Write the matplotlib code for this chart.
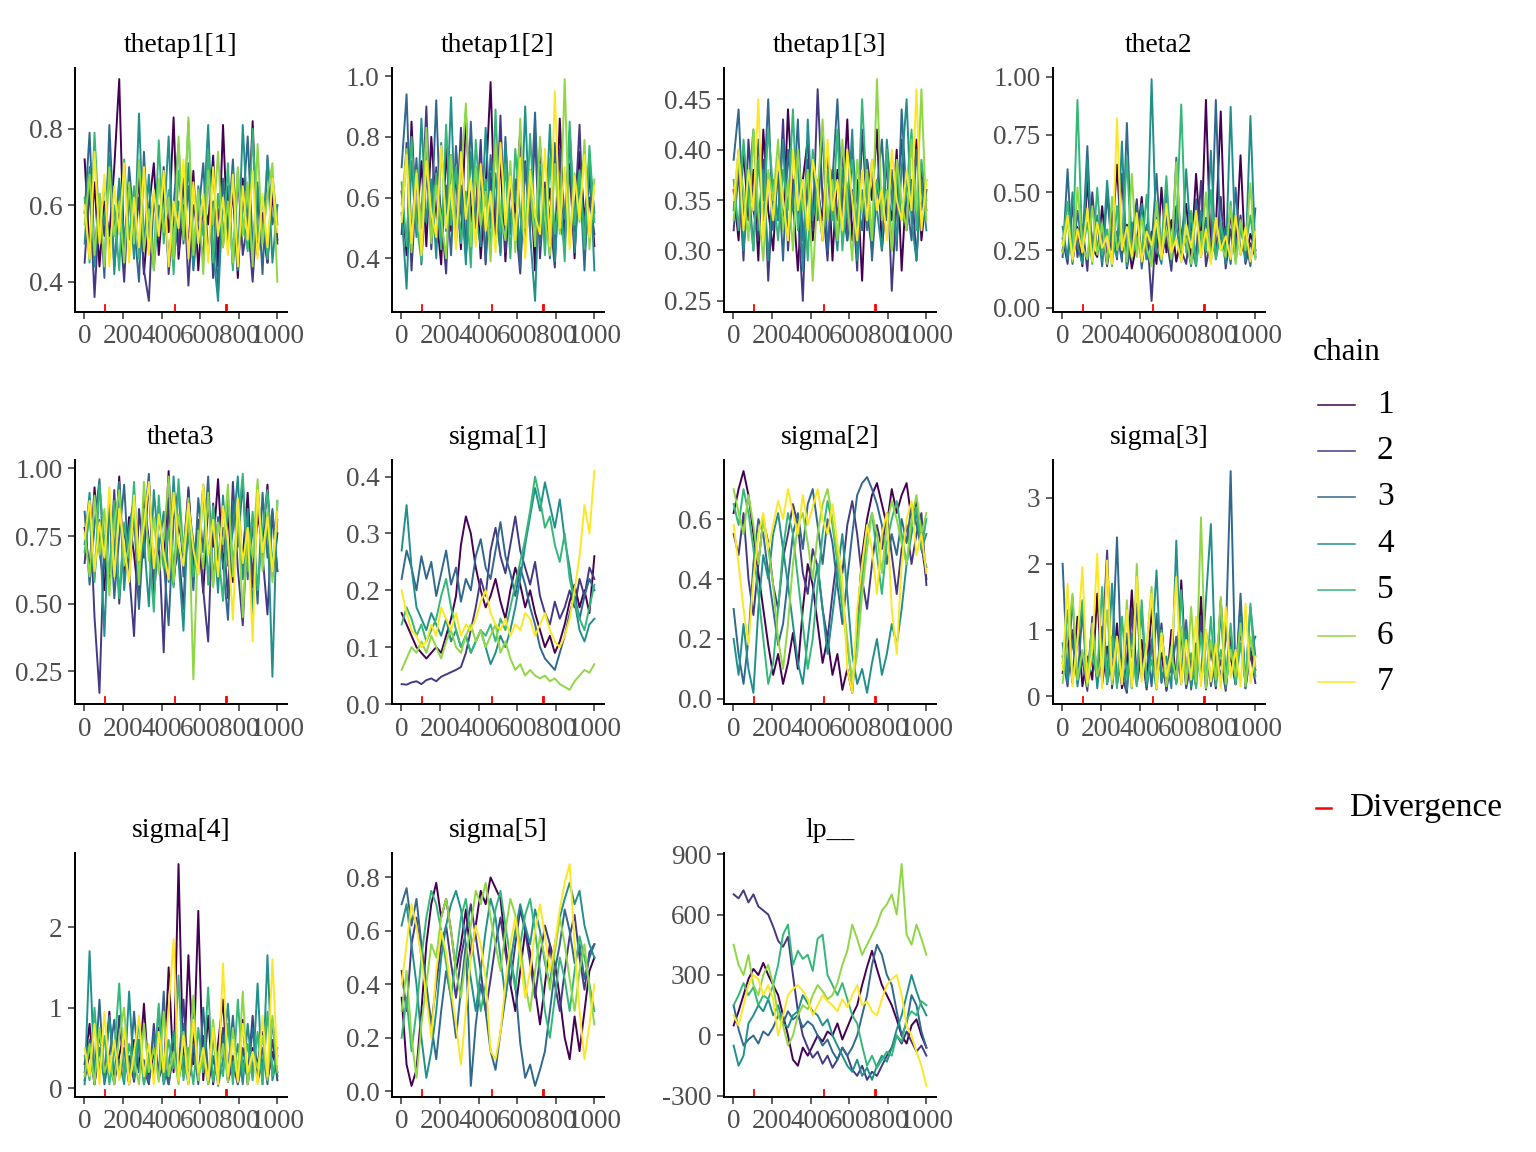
import matplotlib
matplotlib.use("Agg")
import matplotlib.pyplot as plt
from matplotlib.lines import Line2D
import numpy as np

plt.rcParams['font.family'] = ['Liberation Serif', 'DejaVu Serif']

# MCMC trace plot, 7 chains x 1000 iterations, values read (thinned) off the reference
n_iter = 1000
chain_labels = ['1', '2', '3', '4', '5', '6', '7']
chain_colors = ['#440154', '#443A83', '#31688E', '#21908C', '#35B779', '#8FD744', '#FDE725']
divergences = [105, 470, 732, 740]

param_names = ['thetap1[1]', 'thetap1[2]', 'thetap1[3]', 'theta2',
               'theta3', 'sigma[1]', 'sigma[2]', 'sigma[3]',
               'sigma[4]', 'sigma[5]', 'lp__']

thetap1_1 = [
    [0.72,0.48,0.66,0.44,0.61,0.52,0.70,0.93,0.45,0.63,0.50,0.68,0.42,0.59,0.71,0.47,0.64,0.53,0.83,0.46,0.60,0.49,0.69,0.43,0.62,0.55,0.73,0.44,0.81,0.50,0.64,0.41,0.67,0.52,0.82,0.47,0.58,0.45,0.63,0.51],
    [0.45,0.65,0.36,0.60,0.52,0.71,0.44,0.58,0.40,0.66,0.49,0.62,0.43,0.35,0.63,0.51,0.70,0.42,0.57,0.48,0.67,0.39,0.60,0.54,0.46,0.72,0.41,0.59,0.50,0.65,0.44,0.69,0.47,0.56,0.40,0.61,0.53,0.45,0.66,0.50],
    [0.58,0.79,0.47,0.63,0.41,0.81,0.52,0.66,0.45,0.70,0.55,0.40,0.74,0.48,0.62,0.52,0.68,0.44,0.60,0.76,0.50,0.65,0.43,0.57,0.71,0.47,0.61,0.38,0.67,0.53,0.72,0.46,0.59,0.78,0.49,0.64,0.42,0.73,0.55,0.60],
    [0.50,0.70,0.44,0.62,0.55,0.73,0.42,0.67,0.51,0.63,0.46,0.84,0.49,0.68,0.43,0.60,0.54,0.78,0.45,0.61,0.52,0.71,0.44,0.65,0.57,0.81,0.48,0.35,0.62,0.50,0.69,0.43,0.81,0.55,0.47,0.66,0.51,0.72,0.45,0.60],
    [0.62,0.45,0.79,0.53,0.66,0.48,0.60,0.43,0.72,0.51,0.65,0.46,0.70,0.56,0.44,0.77,0.50,0.64,0.42,0.69,0.54,0.82,0.47,0.61,0.52,0.74,0.45,0.63,0.49,0.71,0.43,0.67,0.56,0.48,0.80,0.51,0.62,0.46,0.68,0.55],
    [0.55,0.68,0.47,0.63,0.44,0.70,0.52,0.61,0.45,0.66,0.50,0.72,0.48,0.59,0.43,0.67,0.53,0.62,0.46,0.78,0.51,0.83,0.47,0.64,0.42,0.69,0.55,0.74,0.49,0.61,0.45,0.70,0.52,0.66,0.44,0.76,0.50,0.63,0.71,0.40],
    [0.60,0.46,0.74,0.50,0.68,0.44,0.65,0.53,0.71,0.45,0.62,0.49,0.70,0.47,0.64,0.52,0.69,0.44,0.61,0.54,0.72,0.46,0.66,0.50,0.63,0.45,0.70,0.52,0.62,0.47,0.68,0.44,0.65,0.51,0.69,0.46,0.63,0.49,0.67,0.53],
]
thetap1_2 = [
    [0.62,0.41,0.85,0.50,0.72,0.44,0.80,0.55,0.38,0.76,0.49,0.68,0.43,0.88,0.52,0.70,0.40,0.64,0.98,0.47,0.73,0.39,0.66,0.55,0.82,0.45,0.69,0.36,0.77,0.51,0.63,0.42,0.86,0.48,0.71,0.40,0.75,0.53,0.67,0.44],
    [0.48,0.78,0.36,0.66,0.52,0.90,0.43,0.70,0.55,0.35,0.74,0.47,0.83,0.41,0.62,0.50,0.79,0.38,0.68,0.46,0.87,0.42,0.64,0.53,0.35,0.72,0.49,0.81,0.40,0.65,0.54,0.37,0.76,0.45,0.69,0.52,0.84,0.41,0.60,0.48],
    [0.70,0.94,0.45,0.73,0.38,0.68,0.52,0.92,0.46,0.64,0.41,0.77,0.55,0.44,0.85,0.50,0.67,0.39,0.74,0.56,0.42,0.80,0.48,0.66,0.37,0.71,0.53,0.88,0.44,0.63,0.40,0.78,0.51,0.45,0.82,0.49,0.69,0.36,0.73,0.55],
    [0.55,0.30,0.72,0.47,0.86,0.52,0.66,0.40,0.78,0.49,0.93,0.45,0.64,0.38,0.75,0.54,0.44,0.83,0.50,0.68,0.41,0.77,0.52,0.62,0.43,0.90,0.48,0.26,0.71,0.46,0.84,0.39,0.67,0.53,0.80,0.42,0.65,0.50,0.74,0.36],
    [0.65,0.44,0.80,0.52,0.39,0.75,0.48,0.68,0.43,0.84,0.51,0.70,0.45,0.62,0.37,0.79,0.55,0.66,0.42,0.89,0.49,0.71,0.40,0.76,0.54,0.44,0.81,0.50,0.67,0.41,0.73,0.48,0.62,0.39,0.85,0.51,0.69,0.43,0.77,0.52],
    [0.58,0.76,0.42,0.69,0.50,0.83,0.45,0.64,0.53,0.40,0.74,0.48,0.67,0.91,0.44,0.70,0.51,0.62,0.39,0.78,0.55,0.46,0.72,0.42,0.86,0.50,0.65,0.44,0.80,0.53,0.41,0.71,0.48,0.99,0.45,0.68,0.52,0.79,0.43,0.66],
    [0.52,0.74,0.45,0.68,0.41,0.72,0.55,0.47,0.77,0.50,0.64,0.43,0.75,0.53,0.66,0.44,0.71,0.49,0.62,0.42,0.78,0.51,0.67,0.46,0.73,0.40,0.69,0.54,0.48,0.76,0.44,0.95,0.50,0.70,0.43,0.67,0.53,0.74,0.47,0.64],
]
thetap1_3 = [
    [0.36,0.31,0.40,0.33,0.38,0.29,0.42,0.34,0.30,0.39,0.32,0.44,0.35,0.28,0.37,0.41,0.31,0.36,0.33,0.40,0.29,0.38,0.34,0.43,0.31,0.37,0.27,0.39,0.35,0.42,0.30,0.36,0.33,0.40,0.28,0.37,0.34,0.41,0.31,0.36],
    [0.32,0.38,0.29,0.41,0.34,0.31,0.39,0.27,0.36,0.33,0.43,0.30,0.37,0.34,0.25,0.39,0.32,0.46,0.35,0.29,0.38,0.33,0.40,0.31,0.36,0.28,0.42,0.34,0.30,0.37,0.33,0.39,0.26,0.35,0.41,0.32,0.37,0.29,0.38,0.34],
    [0.39,0.44,0.33,0.37,0.30,0.41,0.35,0.45,0.32,0.38,0.29,0.40,0.34,0.43,0.31,0.36,0.39,0.33,0.42,0.30,0.37,0.45,0.34,0.31,0.40,0.35,0.32,0.39,0.29,0.36,0.41,0.33,0.38,0.30,0.44,0.35,0.31,0.40,0.34,0.37],
    [0.34,0.40,0.30,0.36,0.42,0.32,0.38,0.29,0.37,0.33,0.41,0.31,0.35,0.39,0.28,0.43,0.33,0.37,0.31,0.40,0.35,0.30,0.38,0.33,0.42,0.29,0.36,0.32,0.39,0.34,0.30,0.41,0.35,0.31,0.38,0.45,0.33,0.29,0.37,0.32],
    [0.37,0.32,0.41,0.35,0.30,0.39,0.33,0.42,0.36,0.31,0.38,0.34,0.44,0.32,0.37,0.29,0.40,0.35,0.31,0.38,0.33,0.42,0.30,0.36,0.39,0.32,0.45,0.35,0.31,0.37,0.34,0.40,0.30,0.38,0.33,0.36,0.42,0.32,0.39,0.35],
    [0.33,0.39,0.36,0.31,0.42,0.34,0.29,0.38,0.35,0.41,0.32,0.37,0.30,0.40,0.34,0.38,0.27,0.36,0.43,0.33,0.37,0.31,0.41,0.35,0.29,0.39,0.34,0.38,0.31,0.47,0.33,0.36,0.30,0.39,0.35,0.32,0.41,0.34,0.46,0.33],
    [0.35,0.40,0.32,0.38,0.34,0.45,0.31,0.37,0.33,0.39,0.35,0.31,0.40,0.34,0.37,0.32,0.39,0.36,0.31,0.41,0.34,0.37,0.32,0.40,0.35,0.31,0.38,0.33,0.39,0.34,0.36,0.31,0.40,0.35,0.33,0.38,0.34,0.46,0.32,0.37],
]
theta2 = [
    [0.25,0.40,0.20,0.35,0.18,0.55,0.26,0.22,0.44,0.19,0.30,0.62,0.23,0.36,0.17,0.28,0.48,0.21,0.33,0.19,0.52,0.24,0.38,0.20,0.31,0.45,0.22,0.58,0.26,0.90,0.21,0.34,0.85,0.19,0.41,0.23,0.66,0.20,0.32,0.25],
    [0.30,0.19,0.45,0.22,0.36,0.16,0.50,0.24,0.33,0.18,0.42,0.21,0.58,0.17,0.29,0.47,0.20,0.35,0.03,0.39,0.22,0.31,0.16,0.44,0.25,0.19,0.37,0.21,0.55,0.18,0.30,0.23,0.48,0.17,0.34,0.21,0.40,0.19,0.28,0.22],
    [0.22,0.60,0.19,0.42,0.26,0.70,0.21,0.38,0.18,0.49,0.25,0.33,0.20,0.80,0.23,0.44,0.17,0.36,0.27,0.58,0.21,0.40,0.19,0.65,0.24,0.31,0.18,0.47,0.22,0.39,0.20,0.90,0.25,0.35,0.19,0.52,0.23,0.30,0.18,0.43],
    [0.35,0.21,0.50,0.27,0.19,0.64,0.24,0.40,0.20,0.55,0.28,0.22,0.72,0.18,0.37,0.25,0.45,0.21,0.99,0.26,0.19,0.50,0.23,0.36,0.20,0.60,0.27,0.18,0.42,0.24,0.68,0.21,0.33,0.19,0.87,0.25,0.38,0.20,0.83,0.23],
    [0.28,0.46,0.22,0.90,0.25,0.37,0.19,0.52,0.23,0.34,0.18,0.44,0.26,0.65,0.21,0.31,0.24,0.49,0.20,0.38,0.27,0.57,0.22,0.35,0.88,0.24,0.42,0.19,0.33,0.25,0.51,0.21,0.37,0.23,0.46,0.20,0.34,0.26,0.40,0.22],
    [0.24,0.38,0.20,0.52,0.27,0.21,0.44,0.23,0.36,0.19,0.48,0.25,0.32,0.20,0.58,0.22,0.39,0.26,0.18,0.46,0.23,0.34,0.21,0.63,0.25,0.30,0.19,0.41,0.24,0.50,0.20,0.36,0.27,0.22,0.44,0.19,0.38,0.25,0.54,0.21],
    [0.27,0.40,0.21,0.34,0.24,0.43,0.20,0.37,0.26,0.31,0.19,0.82,0.25,0.35,0.22,0.41,0.20,0.33,0.27,0.38,0.21,0.45,0.24,0.30,0.20,0.36,0.26,0.42,0.22,0.34,0.19,0.39,0.25,0.31,0.21,0.40,0.23,0.35,0.20,0.33],
]
theta3 = [
    [0.78,0.62,0.93,0.70,0.55,0.88,0.66,0.97,0.59,0.82,0.68,0.51,0.90,0.73,0.60,0.86,0.64,0.99,0.57,0.80,0.69,0.92,0.61,0.77,0.54,0.87,0.71,0.96,0.63,0.84,0.58,0.79,0.67,0.91,0.56,0.83,0.72,0.94,0.60,0.76],
    [0.65,0.88,0.45,0.17,0.75,0.58,0.92,0.50,0.79,0.62,0.38,0.85,0.67,0.96,0.53,0.74,0.32,0.89,0.61,0.70,0.48,0.93,0.64,0.81,0.55,0.36,0.87,0.66,0.78,0.52,0.95,0.63,0.42,0.80,0.59,0.90,0.68,0.46,0.84,0.62],
    [0.84,0.57,0.79,0.96,0.63,0.87,0.52,0.75,0.94,0.61,0.83,0.48,0.78,0.98,0.58,0.86,0.66,0.42,0.81,0.93,0.60,0.76,0.55,0.89,0.69,0.97,0.57,0.82,0.65,0.44,0.88,0.71,0.95,0.59,0.80,0.50,0.91,0.67,0.85,0.62],
    [0.72,0.91,0.60,0.81,0.38,0.86,0.67,0.95,0.55,0.78,0.89,0.63,0.74,0.49,0.92,0.70,0.84,0.58,0.97,0.66,0.40,0.87,0.73,0.61,0.94,0.69,0.80,0.54,0.90,0.64,0.77,0.97,0.59,0.85,0.46,0.93,0.71,0.82,0.23,0.88],
    [0.69,0.83,0.58,0.94,0.73,0.61,0.88,0.52,0.80,0.67,0.95,0.59,0.85,0.71,0.47,0.90,0.63,0.78,0.56,0.96,0.68,0.82,0.60,0.74,0.93,0.57,0.86,0.70,0.51,0.89,0.65,0.79,0.98,0.62,0.84,0.55,0.77,0.92,0.64,0.81],
    [0.76,0.60,0.90,0.68,0.85,0.53,0.79,0.92,0.64,0.71,0.87,0.57,0.95,0.66,0.82,0.61,0.74,0.97,0.58,0.83,0.69,0.89,0.22,0.77,0.63,0.91,0.56,0.80,0.72,0.94,0.60,0.86,0.45,0.78,0.67,0.96,0.62,0.84,0.58,0.88],
    [0.74,0.88,0.62,0.80,0.67,0.93,0.60,0.85,0.71,0.58,0.90,0.66,0.79,0.95,0.63,0.83,0.69,0.59,0.91,0.72,0.64,0.87,0.70,0.61,0.94,0.68,0.81,0.60,0.86,0.73,0.44,0.89,0.65,0.78,0.36,0.92,0.69,0.82,0.62,0.84],
]
sigma_1 = [
    [0.16,0.14,0.12,0.10,0.09,0.08,0.09,0.10,0.09,0.12,0.15,0.19,0.28,0.33,0.30,0.24,0.20,0.17,0.19,0.22,0.18,0.15,0.20,0.24,0.21,0.17,0.20,0.16,0.13,0.10,0.12,0.09,0.11,0.14,0.18,0.21,0.17,0.20,0.16,0.26],
    [0.035,0.034,0.038,0.040,0.035,0.042,0.045,0.040,0.048,0.052,0.056,0.060,0.065,0.09,0.13,0.17,0.22,0.19,0.27,0.31,0.26,0.23,0.28,0.33,0.27,0.24,0.21,0.25,0.19,0.16,0.14,0.18,0.15,0.17,0.20,0.17,0.22,0.19,0.24,0.22],
    [0.22,0.27,0.24,0.20,0.26,0.22,0.25,0.19,0.23,0.27,0.21,0.24,0.18,0.22,0.20,0.26,0.29,0.24,0.22,0.27,0.32,0.26,0.23,0.19,0.24,0.21,0.17,0.14,0.10,0.08,0.07,0.06,0.09,0.12,0.16,0.19,0.15,0.19,0.22,0.20],
    [0.27,0.35,0.24,0.17,0.15,0.13,0.16,0.14,0.12,0.15,0.11,0.13,0.10,0.12,0.09,0.11,0.13,0.10,0.07,0.09,0.12,0.10,0.13,0.17,0.22,0.28,0.33,0.38,0.34,0.39,0.35,0.31,0.36,0.29,0.24,0.18,0.13,0.11,0.14,0.15],
    [0.14,0.17,0.15,0.12,0.14,0.11,0.13,0.15,0.19,0.22,0.17,0.13,0.10,0.12,0.09,0.11,0.13,0.12,0.14,0.11,0.15,0.13,0.17,0.21,0.25,0.29,0.34,0.40,0.36,0.31,0.33,0.28,0.25,0.30,0.22,0.18,0.15,0.13,0.17,0.21],
    [0.06,0.08,0.10,0.09,0.11,0.09,0.12,0.10,0.08,0.11,0.13,0.10,0.09,0.12,0.14,0.11,0.13,0.10,0.12,0.14,0.09,0.11,0.08,0.06,0.07,0.05,0.06,0.05,0.045,0.05,0.04,0.045,0.035,0.03,0.025,0.04,0.05,0.06,0.055,0.07],
    [0.20,0.16,0.13,0.12,0.10,0.11,0.14,0.12,0.17,0.15,0.13,0.16,0.12,0.14,0.13,0.15,0.18,0.20,0.16,0.14,0.13,0.15,0.12,0.14,0.13,0.16,0.15,0.12,0.14,0.16,0.13,0.11,0.10,0.12,0.15,0.20,0.26,0.35,0.30,0.41],
]
sigma_2 = [
    [0.62,0.70,0.76,0.68,0.55,0.42,0.30,0.18,0.08,0.15,0.05,0.12,0.22,0.10,0.30,0.45,0.38,0.25,0.12,0.20,0.08,0.15,0.03,0.10,0.02,0.25,0.48,0.60,0.68,0.72,0.65,0.58,0.70,0.62,0.68,0.72,0.60,0.66,0.52,0.40],
    [0.55,0.48,0.62,0.40,0.28,0.45,0.60,0.52,0.38,0.30,0.47,0.55,0.65,0.58,0.42,0.35,0.50,0.44,0.30,0.20,0.35,0.48,0.42,0.58,0.66,0.55,0.40,0.30,0.45,0.58,0.50,0.62,0.48,0.35,0.50,0.58,0.45,0.55,0.62,0.38],
    [0.30,0.15,0.05,0.20,0.45,0.60,0.55,0.42,0.30,0.18,0.25,0.40,0.55,0.62,0.50,0.65,0.70,0.58,0.45,0.60,0.52,0.38,0.25,0.40,0.55,0.68,0.72,0.74,0.70,0.65,0.58,0.45,0.55,0.48,0.60,0.52,0.65,0.58,0.50,0.44],
    [0.20,0.08,0.25,0.10,0.02,0.30,0.48,0.40,0.55,0.62,0.50,0.38,0.25,0.12,0.05,0.20,0.35,0.45,0.30,0.15,0.28,0.42,0.55,0.35,0.15,0.05,0.10,0.02,0.12,0.20,0.08,0.15,0.25,0.18,0.30,0.45,0.55,0.62,0.50,0.55],
    [0.65,0.58,0.70,0.62,0.50,0.35,0.20,0.05,0.12,0.30,0.50,0.62,0.55,0.40,0.25,0.10,0.20,0.38,0.55,0.66,0.58,0.45,0.30,0.18,0.05,0.22,0.40,0.55,0.62,0.48,0.35,0.52,0.60,0.66,0.55,0.45,0.58,0.64,0.50,0.60],
    [0.70,0.62,0.55,0.68,0.58,0.45,0.60,0.50,0.38,0.20,0.10,0.25,0.45,0.58,0.62,0.52,0.40,0.55,0.65,0.70,0.60,0.48,0.35,0.20,0.05,0.15,0.35,0.50,0.62,0.55,0.42,0.58,0.66,0.60,0.52,0.45,0.60,0.68,0.55,0.62],
    [0.58,0.45,0.30,0.18,0.40,0.55,0.62,0.50,0.58,0.66,0.60,0.70,0.62,0.55,0.68,0.58,0.64,0.70,0.60,0.55,0.65,0.52,0.40,0.10,0.02,0.30,0.45,0.58,0.50,0.35,0.55,0.62,0.30,0.15,0.45,0.60,0.66,0.48,0.55,0.42],
]
sigma_3 = [
    [0.35,0.90,0.20,1.20,0.15,0.60,0.25,1.55,0.18,0.75,0.30,1.10,0.12,0.50,1.60,0.22,0.85,0.14,1.35,0.28,0.65,0.10,1.00,0.20,1.75,0.32,0.55,0.15,1.50,0.25,0.80,0.12,1.45,0.30,0.60,0.18,1.05,0.22,0.70,0.40],
    [0.60,0.15,1.00,0.25,0.55,0.08,1.20,0.20,0.70,2.20,0.12,0.90,0.30,0.05,1.30,0.18,0.65,0.10,0.85,0.25,1.10,0.08,0.60,0.20,0.95,0.12,0.50,0.30,1.20,0.10,0.75,0.22,0.55,0.08,0.90,0.18,1.40,0.12,0.65,0.20],
    [2.00,0.30,0.85,0.20,1.30,0.15,0.70,0.25,1.05,0.18,0.60,2.40,0.22,0.95,0.12,1.40,0.28,0.80,0.15,1.25,0.20,0.55,0.35,0.90,0.18,1.15,0.10,0.75,0.25,1.00,0.15,0.60,0.30,0.85,3.40,0.20,1.55,0.12,0.70,0.90],
    [0.80,0.20,1.50,0.15,0.65,0.30,1.10,0.12,0.85,0.25,1.70,0.18,0.55,0.10,0.95,0.28,1.30,0.15,0.70,1.90,0.22,0.60,0.12,2.35,0.25,1.00,0.15,0.80,0.30,1.45,2.60,0.20,1.30,0.12,0.75,0.25,1.20,0.18,1.35,0.60],
    [0.50,1.30,0.25,0.80,1.45,0.18,0.60,0.30,1.65,0.20,0.90,0.12,1.20,0.28,0.70,0.15,1.45,0.22,0.55,0.10,1.00,0.30,0.75,0.18,1.60,0.25,0.65,0.12,0.95,0.20,1.20,0.15,0.70,0.28,1.10,0.18,0.80,0.22,1.40,0.30],
    [0.20,0.90,1.55,0.25,0.70,0.15,1.10,0.30,0.60,1.30,0.18,0.85,0.25,1.45,0.12,2.00,0.30,0.75,1.65,0.20,0.95,0.15,0.60,0.28,1.05,0.18,1.35,0.22,2.70,0.12,0.85,0.25,1.50,0.18,0.70,0.30,1.10,0.15,0.90,0.45],
    [0.40,1.70,0.15,0.85,1.95,0.20,0.70,2.15,0.12,2.05,0.25,0.90,0.18,1.30,0.15,1.80,0.22,0.75,1.55,0.12,0.95,0.30,0.65,1.80,0.18,0.85,0.25,1.20,0.15,1.00,0.22,0.80,0.12,1.35,0.28,0.70,0.15,1.40,0.20,0.60],
]
sigma_4 = [
    [0.30,0.80,0.05,0.50,0.15,0.95,0.08,0.40,0.70,0.05,0.60,0.20,1.05,0.10,0.45,0.75,0.08,1.50,0.20,2.78,0.15,1.65,0.30,2.20,0.10,0.90,0.05,0.55,1.10,0.08,0.40,0.20,0.85,0.05,0.50,0.30,0.70,0.10,0.45,0.20],
    [0.10,0.45,0.05,0.70,0.20,0.35,0.05,0.90,0.15,0.40,0.08,0.60,0.25,0.05,0.80,0.12,0.30,0.05,0.55,0.20,1.10,0.08,0.40,0.15,0.65,0.05,0.35,0.20,0.75,0.10,0.30,0.05,0.50,0.15,0.90,0.08,0.35,0.20,0.60,0.10],
    [0.20,0.60,0.10,1.10,0.05,0.40,0.85,0.12,0.50,0.05,0.95,0.20,0.35,0.08,0.70,0.15,1.20,0.05,0.45,0.25,0.80,0.10,0.55,0.05,1.00,0.18,0.40,0.08,0.65,0.20,0.90,0.05,0.35,0.12,0.75,0.20,0.50,0.05,0.85,0.15],
    [0.05,1.70,0.15,0.50,0.08,0.90,0.20,0.35,0.05,1.20,0.12,0.60,0.05,0.45,0.15,1.00,0.05,0.30,0.70,0.10,0.40,0.05,0.95,0.15,0.50,0.08,0.65,0.03,0.35,1.05,0.12,0.55,0.05,0.80,0.15,1.30,0.05,1.65,0.10,0.40],
    [0.40,0.10,1.00,0.20,0.65,0.05,0.45,1.30,0.10,0.55,0.20,0.85,0.05,0.40,0.15,1.05,0.08,0.60,0.25,1.40,0.10,0.50,0.05,0.75,0.20,1.25,0.08,0.45,0.15,0.80,0.05,1.10,0.20,0.55,0.10,0.70,0.05,0.95,0.15,0.50],
    [0.15,0.55,0.05,0.75,0.20,0.40,0.05,0.65,1.00,0.10,0.35,0.05,0.80,0.20,0.50,0.08,0.95,0.15,0.45,0.05,0.70,0.25,1.15,0.10,0.40,0.05,0.85,0.20,0.55,0.08,0.75,0.15,1.20,0.05,0.45,0.25,0.65,0.10,0.90,0.20],
    [0.50,0.15,0.80,0.05,0.95,0.20,0.60,0.10,0.75,0.05,0.45,0.90,0.15,0.55,0.05,0.70,0.20,1.00,1.85,0.10,0.65,0.05,0.85,0.20,0.50,0.10,0.75,0.05,1.55,0.15,0.60,0.08,0.80,0.20,0.45,0.05,0.90,0.15,1.60,0.30],
]
sigma_5 = [
    [0.35,0.10,0.02,0.08,0.30,0.55,0.70,0.78,0.65,0.72,0.60,0.45,0.55,0.68,0.50,0.62,0.75,0.70,0.80,0.76,0.72,0.55,0.40,0.30,0.45,0.60,0.52,0.38,0.25,0.40,0.55,0.48,0.35,0.20,0.12,0.28,0.15,0.30,0.45,0.50],
    [0.45,0.30,0.55,0.65,0.50,0.38,0.25,0.40,0.55,0.62,0.48,0.35,0.50,0.60,0.70,0.58,0.45,0.30,0.42,0.55,0.65,0.52,0.40,0.55,0.68,0.60,0.48,0.35,0.50,0.62,0.55,0.40,0.30,0.45,0.58,0.66,0.50,0.38,0.52,0.55],
    [0.70,0.76,0.62,0.72,0.55,0.40,0.25,0.12,0.30,0.45,0.35,0.20,0.38,0.55,0.02,0.25,0.40,0.30,0.15,0.08,0.22,0.35,0.50,0.40,0.18,0.05,0.10,0.02,0.08,0.15,0.30,0.45,0.55,0.68,0.60,0.48,0.55,0.42,0.50,0.55],
    [0.62,0.70,0.55,0.40,0.20,0.05,0.15,0.30,0.50,0.62,0.70,0.75,0.68,0.55,0.42,0.30,0.45,0.60,0.72,0.65,0.50,0.35,0.48,0.60,0.70,0.62,0.55,0.68,0.60,0.48,0.40,0.55,0.65,0.72,0.78,0.70,0.75,0.62,0.55,0.50],
    [0.20,0.35,0.15,0.30,0.50,0.65,0.75,0.70,0.60,0.48,0.35,0.50,0.65,0.72,0.58,0.45,0.30,0.40,0.55,0.68,0.75,0.62,0.50,0.38,0.55,0.66,0.72,0.60,0.45,0.30,0.20,0.35,0.50,0.42,0.30,0.45,0.58,0.50,0.40,0.30],
    [0.30,0.45,0.20,0.05,0.25,0.40,0.55,0.50,0.65,0.72,0.60,0.45,0.35,0.50,0.62,0.75,0.70,0.78,0.65,0.55,0.45,0.60,0.72,0.66,0.55,0.40,0.30,0.45,0.58,0.50,0.38,0.52,0.65,0.55,0.42,0.30,0.45,0.55,0.38,0.25],
    [0.40,0.55,0.70,0.62,0.50,0.35,0.20,0.45,0.60,0.52,0.38,0.25,0.10,0.30,0.50,0.62,0.55,0.42,0.15,0.12,0.22,0.40,0.55,0.65,0.50,0.35,0.45,0.60,0.70,0.58,0.45,0.55,0.68,0.78,0.85,0.55,0.30,0.12,0.25,0.40],
]
lp = [
    [50,120,200,280,330,300,360,300,250,200,100,0,-120,-150,-60,-100,-50,0,-30,20,0,60,-20,40,100,150,250,340,420,330,250,200,150,80,0,-40,50,80,0,-60],
    [700,680,720,660,700,640,620,600,540,470,440,490,300,120,0,-60,-110,-80,-140,-100,-160,-120,-60,-100,-170,-200,-150,-220,-180,-200,-150,-100,-60,0,-40,20,-30,-80,-50,-100],
    [150,30,-50,-20,0,-40,20,0,40,100,60,120,80,100,40,70,50,0,-50,-20,-80,-120,-60,-100,-60,0,100,200,350,450,400,300,250,120,0,60,200,150,20,-60],
    [-50,-150,-100,60,100,150,120,180,100,150,60,40,100,120,200,160,120,100,50,80,0,-50,-100,-150,-180,-120,-200,-160,-220,-150,-100,-130,-60,30,100,200,300,220,150,100],
    [150,200,260,200,240,150,200,180,250,350,500,550,350,420,380,400,320,480,500,300,250,200,260,180,100,60,-50,-150,-100,-160,-120,-80,-100,0,-30,80,120,100,170,150],
    [450,350,300,400,250,200,300,350,250,100,50,-50,0,100,150,130,200,250,220,180,200,260,350,420,550,480,400,450,500,550,620,650,700,600,850,500,450,550,480,400],
    [100,50,150,250,300,280,200,250,180,0,100,200,230,250,220,180,100,150,200,170,150,120,180,140,200,250,150,170,120,100,180,250,280,300,200,50,0,-80,-150,-250],
]

y_ticks = [
    [0.4, 0.6, 0.8], [0.4, 0.6, 0.8, 1.0], [0.25, 0.30, 0.35, 0.40, 0.45],
    [0.0, 0.25, 0.5, 0.75, 1.0], [0.25, 0.5, 0.75, 1.0], [0.0, 0.1, 0.2, 0.3, 0.4],
    [0.0, 0.2, 0.4, 0.6], [0, 1, 2, 3], [0, 1, 2], [0.0, 0.2, 0.4, 0.6, 0.8],
    [-300, 0, 300, 600, 900],
]
y_labels = [
    ['0.4', '0.6', '0.8'], ['0.4', '0.6', '0.8', '1.0'], ['0.25', '0.30', '0.35', '0.40', '0.45'],
    ['0.00', '0.25', '0.50', '0.75', '1.00'], ['0.25', '0.50', '0.75', '1.00'], ['0.0', '0.1', '0.2', '0.3', '0.4'],
    ['0.0', '0.2', '0.4', '0.6'], ['0', '1', '2', '3'], ['0', '1', '2'], ['0.0', '0.2', '0.4', '0.6', '0.8'],
    ['-300', '0', '300', '600', '900'],
]
x_ticks = [0, 200, 400, 600, 800, 1000]

traces = [thetap1_1, thetap1_2, thetap1_3, theta2, theta3,
          sigma_1, sigma_2, sigma_3, sigma_4, sigma_5, lp]

W, H = 1536, 1152
fig = plt.figure(figsize=(W / 100, H / 100), dpi=100)

# panel grid in pixels
col_left = [75, 392, 724, 1053]
row_top = [68, 460, 853]
pw, ph = 212, 244

for k, (name, chains) in enumerate(zip(param_names, traces)):
    r, c = divmod(k, 4)
    ax = fig.add_axes([col_left[c] / W, 1 - (row_top[r] + ph) / H, pw / W, ph / H])
    for vals, col in zip(chains, chain_colors):
        it = np.linspace(1, n_iter, len(vals))
        ax.plot(it, vals, color=col, lw=1.4)
    ax.margins(y=0.05)
    ax.set_xlim(1 - 0.05 * (n_iter - 1), n_iter + 0.05 * (n_iter - 1))
    for d in divergences:
        ax.axvline(d, ymin=0, ymax=0.03, color='red', lw=1.3)

    ax.set_xticks(x_ticks)
    ax.set_xticklabels([str(t) for t in x_ticks])
    ax.set_yticks(y_ticks[k])
    ax.set_yticklabels(y_labels[k])
    for s in ['top', 'right']:
        ax.spines[s].set_visible(False)
    for s in ['left', 'bottom']:
        ax.spines[s].set_linewidth(1.4)
    ax.tick_params(direction='out', length=5, width=1.1, color='#333333',
                   labelsize=19.5, labelcolor='#4D4D4D', pad=4)
    ax.set_title(name, fontsize=20, pad=11.5)


def px(x, y):
    return x / W, 1 - y / H


# legend drawn by hand on the right
fig.text(*px(1313, 353), 'chain', fontsize=22.5, va='center', ha='left')
leg_y = [405, 451, 497, 544, 590, 636, 682]
for lab, col, y in zip(chain_labels, chain_colors, leg_y):
    (x0, y0), (x1, _) = px(1318, y), px(1355, y)
    fig.add_artist(Line2D([x0, x1], [y0, y0], color=col, lw=1.1, transform=fig.transFigure))
    fig.text(*px(1377, y), lab, fontsize=24, va='center', ha='left')

(x0, y0), (x1, _) = px(1316, 808), px(1331, 808)
fig.add_artist(Line2D([x0, x1], [y0, y0], color='red', lw=1.8, transform=fig.transFigure))
fig.text(*px(1349, 808), 'Divergence', fontsize=24, va='center', ha='left')

fig.savefig('out.png', dpi=100, facecolor='white')
